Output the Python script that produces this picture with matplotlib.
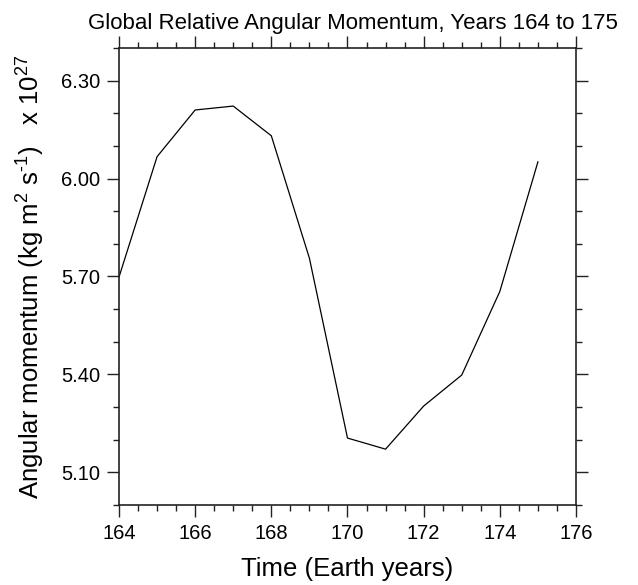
import matplotlib
matplotlib.use('Agg')
import matplotlib.pyplot as plt
from matplotlib.ticker import MultipleLocator

plt.rcParams['font.family'] = ['Liberation Sans', 'DejaVu Sans']
plt.rcParams['mathtext.fontset'] = 'custom'
plt.rcParams['mathtext.rm'] = 'Liberation Sans'

# Years and relative angular momentum (units of 1e27 kg m2 s-1)
years = [164, 165, 166, 167, 168, 169, 170, 171, 172, 173, 174, 175]
momentum = [5.698, 6.067, 6.210, 6.222, 6.131, 5.756, 5.205, 5.171,
            5.303, 5.398, 5.654, 6.051]

fig = plt.figure(figsize=(6.38, 5.85), dpi=100)
ax = fig.add_axes([0.1865, 0.1368, 0.7163, 0.7812])

ax.plot(years, momentum, color='black', linewidth=0.9)

ax.set_xlim(164, 176)
ax.set_ylim(5.00, 6.40)
ax.xaxis.set_major_locator(MultipleLocator(2))
ax.xaxis.set_minor_locator(MultipleLocator(0.5))
ax.yaxis.set_minor_locator(MultipleLocator(0.1))
ax.set_yticks([5.10, 5.40, 5.70, 6.00, 6.30])
ax.set_yticklabels(['5.10', '5.40', '5.70', '6.00', '6.30'])

ax.tick_params(which='both', direction='out', top=True, right=True,
               width=1.0, colors='#222222', labelsize=14.5, labelcolor='black')
ax.tick_params(which='major', length=8.6, pad=5)
ax.tick_params(which='minor', length=4.3)
for sp in ax.spines.values():
    sp.set_linewidth(1.2)
    sp.set_color('#222222')

ax.set_title('Global Relative Angular Momentum, Years 164 to 175',
             fontsize=16, pad=14, x=0.512)
ax.set_xlabel('Time (Earth years)', fontsize=18.5, labelpad=10)
ax.set_ylabel(r'Angular momentum (kg m$^{2}$ s$^{\text{-1}}$)   x 10$^{27}$',
              fontsize=18.5, labelpad=11)

fig.savefig('out.png', dpi=100)
